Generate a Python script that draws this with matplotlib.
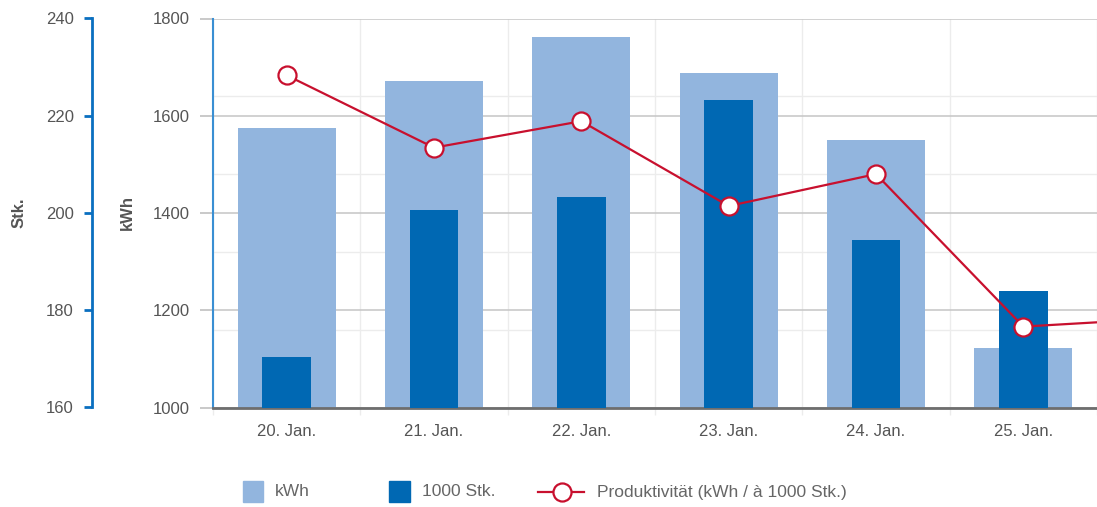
import matplotlib
matplotlib.use("Agg")
import matplotlib.pyplot as plt
import numpy as np
from matplotlib.ticker import FixedLocator
from matplotlib.patches import Rectangle
from matplotlib.lines import Line2D

plt.rcParams['font.family'] = ['Liberation Sans', 'DejaVu Sans']

categories = ["20. Jan.", "21. Jan.", "22. Jan.", "23. Jan.", "24. Jan.", "25. Jan."]
kwh = [1575, 1671, 1762, 1688, 1550, 1122]
stk = [170.4, 200.6, 203.3, 223.2, 194.5, 184.0]
# productivity continues to one further (off-screen) day
productivity = [9.27, 8.34, 8.68, 7.59, 8.00, 6.04, 6.15]

C_LIGHT = '#92b5de'
C_DARK = '#0068b3'
C_RED = '#c8102e'
C_TXT = '#555555'
C_LEG = '#666666'
C_AX1 = '#3a8fd3'
C_AX2 = '#0a6fc0'

W, H = 1097, 507
fig = plt.figure(figsize=(W/100, H/100), dpi=100)
L, R, B, T = 213, 1097, 407.5, 18.5
rect = [L/W, 1-B/H, (R-L)/W, (B-T)/H]
ax = fig.add_axes(rect)
ax2 = ax.twinx()
ax3 = ax.twinx()

x = np.arange(len(categories))
ax.bar(x, kwh, width=0.665, color=C_LIGHT, zorder=2, bottom=0)
ax2.bar(x, stk, width=0.33, color=C_DARK, zorder=2)
xp = np.arange(len(productivity))
ax3.plot(xp, productivity, color=C_RED, lw=1.6, marker='o', ms=13,
         mfc='white', mec=C_RED, mew=1.6, zorder=3)

kmin, kmax = 1000, 1800
smin, smax = 160, 240
pmin, pmax = 5, 10
ax.set_xlim(-0.5, 5.5)
ax.set_ylim(kmin, kmax)
ax2.set_ylim(smin, smax)
ax3.set_ylim(pmin, pmax)

# grids on the bottom axes
ax.set_yticks([1000, 1200, 1400, 1600, 1800])
pgrid = np.arange(pmin + 1, pmax)
minor_k = kmin + (pgrid - pmin) / (pmax - pmin) * (kmax - kmin)
ax.yaxis.set_minor_locator(FixedLocator(minor_k))
ax.grid(axis='y', which='major', color='#c9c9c9', lw=1.2, zorder=0)
ax.grid(axis='y', which='minor', color='#ececec', lw=1.0, zorder=0)
ax.set_xticks(x)
ax.set_xticklabels(categories)
ax.xaxis.set_minor_locator(FixedLocator(np.arange(-0.5, 6, 1.0)))
ax.grid(axis='x', which='minor', color='#ececec', lw=1.0, zorder=0)
ax.tick_params(axis='x', which='major', length=0, pad=12, labelsize=12, labelcolor=C_TXT)
ax.tick_params(axis='x', which='minor', length=5, color='#ececec', width=1)
ax.tick_params(axis='y', which='major', length=9.5, width=1.2, color='#c0c0c0',
               pad=7, labelsize=12, labelcolor=C_TXT)
ax.tick_params(axis='y', which='minor', length=0)
ax.set_axisbelow(True)

for s in ['top', 'right']:
    ax.spines[s].set_visible(False)
ax.spines['bottom'].set_color('#6e6e6e')
ax.spines['bottom'].set_linewidth(2)
ax.spines['bottom'].set_zorder(5)
ax.spines['left'].set_color(C_AX1)
ax.spines['left'].set_linewidth(1.5)

# Stk axis
for s in ['top', 'right', 'bottom']:
    ax2.spines[s].set_visible(False)
ax2.spines['left'].set_visible(True)
ax2.spines['left'].set_position(('axes', (92 - L) / (R - L)))
ax2.spines['left'].set_color(C_AX2)
ax2.spines['left'].set_linewidth(2)
ax2.yaxis.set_ticks_position('left')
ax2.yaxis.set_label_position('left')
ax2.set_yticks([160, 180, 200, 220, 240])
ax2.tick_params(axis='y', length=6, width=2, color=C_AX2, pad=7,
                labelsize=12, labelcolor=C_TXT)
ax2.patch.set_visible(False)

ax3.axis('off')
ax3.patch.set_visible(False)

ax.set_ylabel('kWh', fontsize=12, fontweight='bold', color=C_TXT, va='center')
ax.yaxis.set_label_coords((127.5 - L) / (R - L), 0.5)
ax2.set_ylabel('Stk.', fontsize=12, fontweight='bold', color=C_TXT, va='center')
ax2.yaxis.set_label_coords((19.5 - L) / (R - L), 0.5)

# legend (manual)
ly = 492
def fx(px):
    return px / W
def fy(py):
    return 1 - py / H
fig.add_artist(Rectangle((fx(243), fy(502)), 20/W, 21/H, color=C_LIGHT, transform=fig.transFigure))
fig.text(fx(275), fy(ly), 'kWh', fontsize=12.5, color=C_LEG, va='center')
fig.add_artist(Rectangle((fx(389), fy(502)), 21/W, 21/H, color=C_DARK, transform=fig.transFigure))
fig.text(fx(422), fy(ly), '1000 Stk.', fontsize=12.5, color=C_LEG, va='center')
fig.add_artist(Line2D([fx(538), fx(584)], [fy(ly), fy(ly)], color=C_RED, lw=1.6,
                      transform=fig.transFigure))
fig.add_artist(Line2D([fx(562)], [fy(ly)], marker='o', ms=13, mfc='white', mec=C_RED,
                      mew=1.6, transform=fig.transFigure))
fig.text(fx(597), fy(ly), 'Produktivität (kWh / à 1000 Stk.)', fontsize=12.5, color=C_LEG, va='center')

fig.savefig('out.png', dpi=100)
